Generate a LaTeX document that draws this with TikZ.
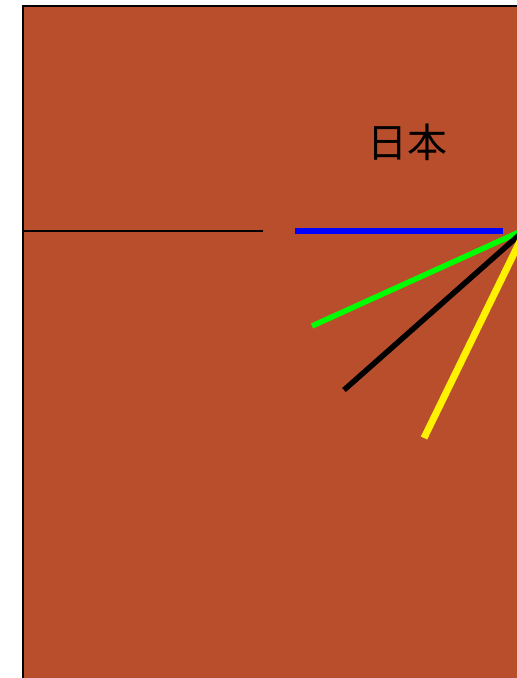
\documentclass[tikz,border=0pt]{standalone}
\usepackage{fontspec}
\newfontfamily\cjk{Noto Sans CJK JP}
\definecolor{bgrust}{RGB}{185,78,45}
\begin{document}
\begin{tikzpicture}[x=1pt,y=-1pt,
  hand/.style={line width=5.5pt},
  lbl/.style={font=\cjk\fontsize{40}{42}\selectfont, inner sep=0pt}]
\useasboundingbox (0,0) rectangle (517,678);
\begin{scope}
\clip (0,0) rectangle (517,678);
\draw[fill=bgrust, draw=black, line width=1.5pt] (23,6) rectangle (560,720);
\coordinate (c) at (526,229);
\coordinate (t0) at (23,231);
\coordinate (t1) at (263,231);
\draw[black, line width=1.2pt] (t0) -- (t1);
\coordinate (b0) at (503,231);
\coordinate (b1) at (295,231);
\draw[blue, hand] (b0) -- (b1);
\coordinate (g1) at (312,326);
\draw[green, hand] (c) -- (g1);
\coordinate (k1) at (344,390);
\draw[black, hand] (c) -- (k1);
\coordinate (y1) at (424,438);
\draw[yellow, line width=7pt] (c) -- (y1);
\end{scope}
\node[lbl] (jp) at (407,142) {日本};
\end{tikzpicture}
\end{document}
